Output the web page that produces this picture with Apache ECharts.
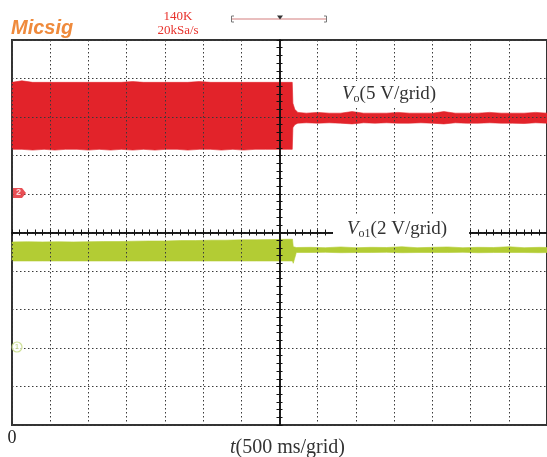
<!DOCTYPE html>
<html><head><meta charset="utf-8">
<script src="https://cdn.jsdelivr.net/npm/echarts@6/dist/echarts.min.js"></script>
<style>html,body{margin:0;padding:0;background:#fff}#c{width:547px;height:457px}</style>
</head><body><div id="c"></div>
<script>
// ---- Data (time in ms, 500 ms/grid; voltages in V) ----
// Channel 2: Vo, 5 V/grid (red) — upper / lower envelope of the trace
const redTime  = [0,130,270,420,560,700,850,1000,1140,1290,1430,1580,1720,1870,2010,2160,2300,2450,2600,2740,2890,3030,3180,3320,3470,3600,3667,3675,3700,3740,3850,4000,4150,4300,4450,4600,4750,4900,5050,5200,5350,5500,5650,5800,5950,6100,6250,6400,6550,6700,6850,7000];
const redUpper = [14.5,14.7,14.5,14.5,14.5,14.5,14.5,14.5,14.5,14.5,14.5,14.6,14.5,14.5,14.5,14.5,14.5,14.6,14.5,14.5,14.5,14.5,14.5,14.5,14.5,14.5,14.5,11.8,11.0,10.6,10.5,10.6,10.5,10.5,10.7,10.5,10.5,10.5,10.6,10.5,10.5,10.5,10.7,10.5,10.5,10.5,10.6,10.5,10.5,10.5,10.6,10.5];
const redLower = [5.8,5.8,5.7,5.8,5.7,5.8,5.8,5.7,5.8,5.7,5.8,5.7,5.8,5.7,5.8,5.8,5.7,5.8,5.8,5.7,5.8,5.7,5.8,5.8,5.8,5.8,5.8,8.6,9.0,9.2,9.25,9.2,9.25,9.2,9.1,9.25,9.2,9.25,9.2,9.2,9.25,9.2,9.1,9.25,9.2,9.2,9.25,9.2,9.2,9.15,9.25,9.2];
// Channel 1: Vo1, 2 V/grid (green)
const greenTime  = [0,200,400,600,800,1000,1200,1400,1600,1800,2000,2200,2400,2600,2800,3000,3200,3400,3600,3670,3680,3720,3900,4100,4300,4500,4700,4900,5100,5300,5500,5700,5900,6100,6300,6500,6700,6900,7000];
const greenUpper = [5.51,5.52,5.51,5.52,5.51,5.52,5.53,5.53,5.55,5.56,5.56,5.58,5.58,5.60,5.60,5.62,5.62,5.63,5.65,5.65,5.26,5.22,5.23,5.21,5.25,5.21,5.23,5.22,5.26,5.21,5.23,5.25,5.21,5.23,5.22,5.26,5.21,5.23,5.22];
const greenLower = [4.52,4.52,4.52,4.52,4.52,4.52,4.52,4.52,4.52,4.52,4.52,4.52,4.52,4.52,4.52,4.52,4.52,4.52,4.52,4.52,4.40,4.96,4.96,4.97,4.95,4.96,4.96,4.97,4.95,4.96,4.96,4.96,4.97,4.95,4.96,4.96,4.96,4.95,4.96];
// Axes
const xMin = 0, xMax = 7000, xGrid = 500;          // 14 grids
const redMin = -30, redMax = 20, redGrid = 5;      // ground of CH2
const greenMin = -4, greenMax = 16, greenGrid = 2; // ground of CH1
const xTickLabels = ['0'];

const RED = '#e2232a', GREEN = '#b3cc34';
const SERIF = '"Liberation Serif","Times New Roman",serif';

function band(t, up, lo, color) {
  return function (params, api) {
    const pts = [];
    for (let i = 0; i < t.length; i++) pts.push(api.coord([t[i], up[i]]));
    for (let i = t.length - 1; i >= 0; i--) pts.push(api.coord([t[i], lo[i]]));
    return { type: 'polygon', shape: { points: pts }, style: { fill: color, stroke: color, lineWidth: 0.6 } };
  };
}

const dotted = { type: [1.5, 2.5], color: '#3a3a3a', width: 1 };
function centerX(inside) {
  return { type: 'value', min: xMin, max: xMax, interval: 100, position: 'bottom', offset: -192.5, z: 4,
    axisLine: { show: true, onZero: false, lineStyle: { color: '#111', width: 1.5 } },
    axisTick: { show: true, inside: inside, length: 3, lineStyle: { color: '#111', width: 1 } },
    axisLabel: { show: false }, splitLine: { show: false } };
}
function centerY(inside) {
  return { type: 'value', min: 0, max: 10, interval: 0.2, position: 'left', offset: -267.5, z: 4,
    axisLine: { show: true, onZero: false, lineStyle: { color: '#111', width: 1.5 } },
    axisTick: { show: true, inside: inside, length: 3, lineStyle: { color: '#111', width: 1 } },
    axisLabel: { show: false }, splitLine: { show: false } };
}

const chart = echarts.init(document.getElementById('c'));
chart.setOption({
  animation: false,
  backgroundColor: '#fff',
  grid: { left: 12, right: 0, top: 40, bottom: 32, outerBoundsMode: 'none', containLabel: false,
    show: true, borderColor: '#333', borderWidth: 2, backgroundColor: '#fff' },
  xAxis: [
    { type: 'value', min: xMin, max: xMax, interval: xGrid, z: 3,
      axisLine: { show: false, onZero: false }, axisTick: { show: false },
      splitLine: { show: true, lineStyle: dotted },
      axisLabel: { show: true, margin: 4, fontFamily: SERIF, fontSize: 18, color: '#222',
        formatter: v => (v === xMin ? xTickLabels[0] : '') },
      name: '{i|t}{n|(500 ms/grid)}', nameLocation: 'middle', nameGap: 13, nameMoveOverlap: false,
      nameTextStyle: { padding: [0, 0, 0, 16], rich: {
        i: { fontFamily: SERIF, fontStyle: 'italic', fontSize: 20, color: '#333' },
        n: { fontFamily: SERIF, fontSize: 20, color: '#333' } } } },
    centerX(false), centerX(true)
  ],
  yAxis: [
    { type: 'value', min: redMin, max: redMax, interval: redGrid, z: 3,
      axisLine: { show: false, onZero: false }, axisTick: { show: false }, axisLabel: { show: false },
      splitLine: { show: true, lineStyle: dotted } },
    { type: 'value', min: greenMin, max: greenMax, interval: greenGrid, show: false,
      axisLine: { onZero: false }, splitLine: { show: false } },
    centerY(false), centerY(true)
  ],
  series: [
    { type: 'custom', name: 'Vo', xAxisIndex: 0, yAxisIndex: 0, z: 2, silent: true,
      data: [[redTime[0], redLower[0]]], renderItem: band(redTime, redUpper, redLower, RED) },
    { type: 'custom', name: 'Vo1', xAxisIndex: 0, yAxisIndex: 1, z: 2, silent: true,
      data: [[greenTime[0], greenLower[0]]], renderItem: band(greenTime, greenUpper, greenLower, GREEN) },
    { type: 'scatter', xAxisIndex: 0, yAxisIndex: 0, z: 6, silent: true, data: [[0, 0]],
      symbol: 'path://M0 0L9 0L13 5L9 10L0 10Z', symbolSize: [13, 10], symbolOffset: [7.5, -1],
      itemStyle: { color: RED },
      label: { show: true, position: 'inside', formatter: '2', color: '#fff', fontSize: 9, fontWeight: 'bold', offset: [-1, 0] } },
    { type: 'scatter', xAxisIndex: 0, yAxisIndex: 1, z: 6, silent: true, data: [[0, 0]],
      symbol: 'circle', symbolSize: 10, symbolOffset: [5, -1],
      itemStyle: { color: 'rgba(255,255,255,0.9)', borderColor: '#c3d97f', borderWidth: 1.2 },
      label: { show: true, position: 'inside', formatter: '1', color: '#aac55c', fontSize: 8 } }
  ],
  graphic: [
    { type: 'text', x: 11, y: 28, z: 10, style: { text: 'Micsig', fill: '#ef8a3c', font: 'italic bold 20px "Liberation Sans", Arial, sans-serif', verticalAlign: 'middle' } },
    { type: 'text', x: 178, y: 17, z: 10, style: { text: '140K', fill: '#e8322c', font: '13px ' + SERIF, align: 'center', verticalAlign: 'middle' } },
    { type: 'text', x: 178, y: 31, z: 10, style: { text: '20kSa/s', fill: '#e8322c', font: '13px ' + SERIF, align: 'center', verticalAlign: 'middle' } },
    { type: 'line', z: 10, shape: { x1: 232, y1: 19, x2: 326, y2: 19 }, style: { stroke: '#e2a9a9', lineWidth: 1.5 } },
    { type: 'polyline', z: 10, shape: { points: [[234, 16], [231.5, 16], [231.5, 22], [234, 22]] }, style: { stroke: '#777', lineWidth: 1, fill: null } },
    { type: 'polyline', z: 10, shape: { points: [[324, 16], [326.5, 16], [326.5, 22], [324, 22]] }, style: { stroke: '#777', lineWidth: 1, fill: null } },
    { type: 'polygon', z: 10, shape: { points: [[277, 15.5], [283, 15.5], [280, 19.5]] }, style: { fill: '#333' } },
    { type: 'text', x: 340, y: 94, z: 10, style: {
        text: '{v|V}{s|o}{n|(5 V/grid)}', backgroundColor: '#fff', padding: [2, 2, 2, 2], verticalAlign: 'middle',
        rich: {
          v: { fontFamily: SERIF, fontStyle: 'italic', fontSize: 19, lineHeight: 22, fill: '#333' },
          s: { fontFamily: SERIF, fontSize: 12, lineHeight: 10, verticalAlign: 'bottom', fill: '#333' },
          n: { fontFamily: SERIF, fontSize: 19, lineHeight: 22, fill: '#333' } } } },
    { type: 'text', x: 333, y: 229, z: 10, style: {
        text: '{v|V}{s|o1}{n|(2 V/grid)}', backgroundColor: '#fff', padding: [3, 22, 3, 14], verticalAlign: 'middle',
        rich: {
          v: { fontFamily: SERIF, fontStyle: 'italic', fontSize: 19, lineHeight: 22, fill: '#333' },
          s: { fontFamily: SERIF, fontSize: 12, lineHeight: 10, verticalAlign: 'bottom', fill: '#333' },
          n: { fontFamily: SERIF, fontSize: 19, lineHeight: 22, fill: '#333' } } } }
  ]
});
</script></body></html>
